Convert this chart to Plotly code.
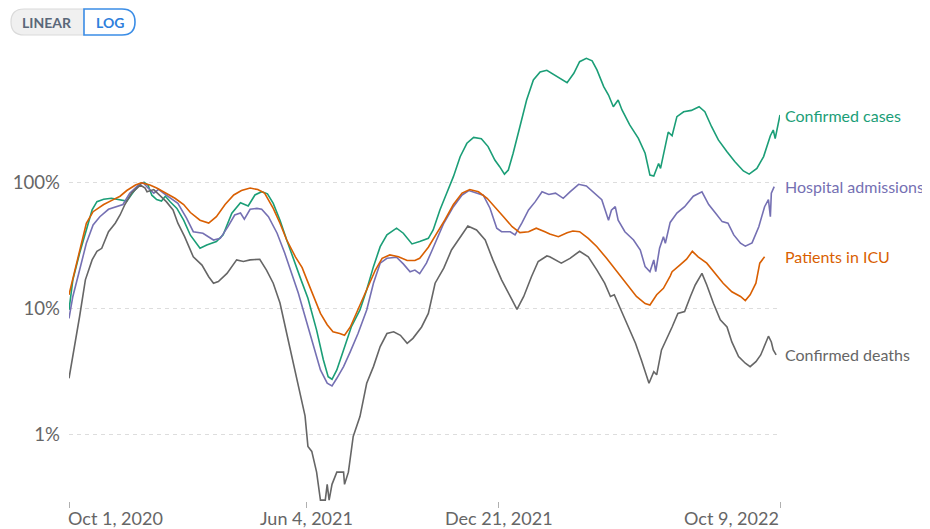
import pandas as pd
import numpy as np
import plotly.graph_objects as go

START = pd.Timestamp("2020-10-01")
END = pd.Timestamp("2022-10-09")

# Days since 2020-10-01 and values (% of peak)
cases_days = [0, 4, 11, 18, 24, 29, 36, 44, 53, 60, 67, 74, 78, 82, 86, 91, 96, 100, 105, 112, 119, 126,
              136, 143, 153, 160, 169, 178, 186, 193, 200, 206, 212, 219, 226, 233, 240, 248, 257, 264,
              269, 273, 278, 285, 293, 302, 309, 316, 323, 330, 340, 347, 356, 364, 373, 378, 385, 392,
              399, 406, 413, 420, 428, 435, 442, 447, 452, 456, 461, 468, 475, 482, 489, 496, 503, 517,
              524, 530, 537, 543, 548, 555, 560, 565, 570, 574, 582, 591, 598, 603, 607, 612, 614, 619,
              622, 626, 631, 638, 646, 654, 660, 667, 674, 683, 691, 700, 706, 714, 721, 728, 731, 733, 738]
cases_vals = [9.7, 16.8, 27.3, 41.8, 60.3, 70.2, 73.3, 74.6, 73, 71, 84, 98, 100, 95, 79, 73, 71, 77.5, 70, 62, 50, 38,
              29.9, 31.8, 33.8, 38.2, 56.8, 68.9, 64.8, 79.3, 84.2, 81, 68, 50, 34.8, 24.2, 17.5, 12, 6.7, 3.9,
              2.86, 2.73, 3.24, 4.67, 7.1, 9.7, 14, 21.4, 30.8, 38.2, 43.2, 39.4, 32.4, 33.8, 35.9, 41.8, 60.3, 81.8,
              110.8, 159.6, 204, 227, 222, 192, 150, 133, 116, 125, 170, 276, 450, 649, 750, 775, 720, 617,
              733, 906, 964, 920, 779, 574, 493, 398, 450, 375, 285, 223, 170, 114, 112, 141, 129, 192,
              250, 234, 332, 363, 372, 398, 363, 276, 217, 175, 146, 123, 116, 129, 160, 234, 260, 222, 342]

hosp_days = [0, 4, 11, 18, 25, 32, 41, 50, 56, 63, 72, 77, 82, 88, 93, 98, 105, 113, 122, 129, 139, 150,
             157, 165, 172, 178, 182, 188, 195, 200, 207, 216, 224, 231, 238, 245, 254, 261, 268, 273, 278,
             285, 292, 300, 309, 316, 323, 330, 340, 347, 354, 359, 364, 371, 377, 382, 389, 399, 408, 415,
             423, 430, 437, 444, 449, 458, 463, 470, 477, 484, 491, 498, 505, 513, 520, 529, 537, 544, 553,
             560, 563, 567, 570, 577, 586, 593, 598, 603, 607, 609, 613, 617, 619, 624, 631, 639, 648, 657,
             664, 671, 678, 684, 690, 697, 702, 709, 716, 722, 726, 728, 729, 732]
hosp_vals = [8.3, 12.4, 20.1, 32.8, 45.8, 53.3, 61, 64, 66.6, 81.8, 95, 99, 90, 82, 88, 82, 74.6, 68, 52, 40.5, 39.4, 34.8,
             35.9, 44.4, 55, 57, 51, 61, 62, 61, 53.3, 39.4, 27.3, 19, 13.2, 8.6, 4.96, 3.24, 2.54, 2.42, 2.78,
             3.44, 4.53, 6.3, 9.7, 15.8, 22.8, 24.9, 25.4, 22.5, 19.5, 20.1, 18.8, 22.8, 29, 36, 47.3, 64, 79.3, 85.9,
             82, 79, 62.2, 43.2, 40.5, 40.5, 38.2, 47.3, 60.3, 70.2, 84, 80, 82, 74.6, 84, 96.4, 93.5, 84, 72.8,
             50, 60, 64, 50, 40.5, 34.8, 29, 21.4, 19.5, 24.2, 19.5, 30, 37, 32.8, 48, 57, 64, 77.5, 84,
             66.6, 57, 48.7, 47.3, 38.2, 32.8, 31.1, 33, 44.4, 64, 72.8, 53.3, 82, 92.4]

icu_days = [0, 6, 13, 18, 25, 36, 46, 53, 60, 69, 75, 84, 91, 101, 110, 119, 126, 136, 145, 153, 162, 171,
            179, 188, 196, 203, 212, 219, 226, 235, 242, 247, 254, 261, 268, 274, 281, 286, 292, 300, 309,
            318, 325, 333, 342, 351, 359, 364, 373, 382, 390, 399, 408, 416, 425, 434, 442, 451, 460, 468,
            477, 485, 494, 499, 508, 517, 523, 530, 539, 548, 558, 569, 579, 589, 598, 603, 610, 617, 624,
            626, 634, 641, 647, 653, 662, 671, 679, 688, 697, 702, 707, 713, 717, 722]
icu_vals = [12.8, 20.1, 32.8, 47.3, 58.4, 66.6, 72.8, 77.5, 86, 95, 99, 95, 90, 82, 74.6, 66.6, 57.5, 50, 47.5, 53.3, 66.6, 79.3,
            86, 90, 87.5, 82, 62, 47.3, 34.8, 25.6, 21, 16.8, 12.4, 9.1, 7.4, 6.5, 6.3, 6.1, 7.1, 9.7, 14,
            20.1, 24.9, 26.5, 25.6, 23.9, 23.9, 24.9, 30.5, 39.4, 50, 66.6, 82, 87.5, 84, 74.6, 64, 53.3, 44.4, 39.8,
            40.5, 43.2, 40.5, 38.8, 37, 39.8, 41, 40.5, 35.9, 30.8, 24.9, 19.5, 15.8, 12.4, 10.9, 10.6, 12.8, 14.4, 18,
            19.5, 22, 24.5, 28.3, 25.6, 22.8, 18.9, 15.8, 13.5, 12.4, 11.5, 12.8, 15.8, 22.8, 25.6]

deaths_days = [0, 6, 11, 17, 24, 29, 34, 41, 48, 53, 58, 65, 74, 79, 81, 88, 94, 101, 108, 113, 120, 126,
               129, 138, 145, 150, 155, 164, 174, 181, 188, 198, 205, 212, 219, 226, 233, 240, 245, 248, 252,
               257, 261, 266, 268, 270, 273, 278, 285, 286, 290, 295, 302, 309, 316, 323, 330, 337, 344, 351,
               357, 366, 373, 380, 389, 397, 406, 414, 423, 432, 440, 449, 458, 465, 472, 480, 487, 496, 499,
               511, 520, 530, 539, 548, 556, 562, 566, 572, 581, 588, 594, 599, 602, 607, 610, 615, 620, 626,
               632, 639, 645, 650, 657, 662, 669, 676, 683, 688, 695, 702, 707, 713, 718, 723, 726, 729, 731, 734]
deaths_vals = [2.78, 4.96, 8.6, 16.8, 24.2, 28.3, 29.9, 40.5, 47.3, 55, 66.6, 82, 95, 90, 84, 87.5, 79.3, 70.2, 60.3, 47.3, 37, 29,
               25.6, 22, 17.8, 15.8, 16.3, 18.9, 24.2, 23.5, 24.2, 24.5, 20.1, 15.8, 11, 6.3, 3.66, 2.1, 1.4, 0.8, 0.73,
               0.5, 0.3, 0.3, 0.4, 0.3, 0.4, 0.5, 0.5, 0.4, 0.5, 0.96, 1.38, 2.54, 3.44, 4.96, 6.3, 6.5, 6.1, 5.27,
               5.77, 7.1, 9.1, 15.8, 20.8, 29, 37, 45, 41.8, 34.8, 24.2, 16.8, 12.4, 9.8, 12.4, 17.8, 23.5, 26, 25.6,
               22.8, 24.9, 28.3, 25.6, 20.1, 15.8, 12.4, 12.8, 10, 7.1, 5.27, 3.9, 3.05, 2.54, 3.14, 2.96, 4.67, 5.6, 7.1,
               9.1, 9.4, 12.4, 15.3, 18.9, 15.3, 10.9, 8.1, 7.1, 5.4, 4.13, 3.66, 3.44, 3.77, 4.26, 5.27, 6, 5.4, 4.67, 4.26]

series = [
    ("Confirmed cases", cases_days, cases_vals, "#1b9e77"),
    ("Hospital admissions", hosp_days, hosp_vals, "#7570b3"),
    ("Patients in ICU", icu_days, icu_vals, "#d95f02"),
    ("Confirmed deaths", deaths_days, deaths_vals, "#666666"),
]

y_tickvals = [1, 10, 100]
y_ticktext = ["1%", "10%", "100%"]
x_tick_dates = ["2020-10-01", "2021-06-04", "2021-12-21", "2022-10-09"]
x_tick_text = ["Oct 1, 2020", "Jun 4, 2021", "Dec 21, 2021", "Oct 9, 2022"]

# The page body adds an 8px margin, so the figure is drawn 8px smaller and shifted
OFF = 8
W, H = 930 - OFF, 529 - OFF
ML, MR, MT, MB = 69 - OFF, 150, 50 - OFF, 28
PW, PH = W - ML - MR, H - MT - MB
FONT = "Lato, 'Open Sans', sans-serif"

fig = go.Figure()
for name, days, vals, color in series:
    dates = START + pd.to_timedelta(days, unit="D")
    fig.add_trace(go.Scatter(x=dates, y=vals, mode="lines", name=name,
                             line=dict(color=color, width=1.6), hoverinfo="skip"))

annotations = []
# series labels at each line's last value
for name, days, vals, color in series:
    annotations.append(dict(xref="paper", x=1 + 3 / PW, xanchor="left",
                            yref="y", y=np.log10(vals[-1]), yanchor="middle",
                            text=name, showarrow=False,
                            font=dict(family=FONT, size=16, color=color)))
# x tick labels (first left-aligned, last right-aligned like the original)
anchors = ["left", "center", "center", "right"]
shifts = [-3, 0, 0, 1]
for d, t, a, s in zip(x_tick_dates, x_tick_text, anchors, shifts):
    annotations.append(dict(xref="x", x=d, xanchor=a, yref="paper", y=0, yanchor="top",
                            yshift=-4, xshift=s, text=t, showarrow=False,
                            font=dict(family=FONT, size=18, color="#666666")))


def px(xp, yp):
    # screenshot pixel -> paper coordinates
    return (xp - OFF - ML) / PW, (H - MB - (yp - OFF)) / PH


def pill_path(x0, x1, y0, y1, r, left_round, right_round):
    def P(a, b):
        u, v = px(a, b)
        return f"{u:.5f},{v:.5f}"
    path = f"M{P(x0 + r, y0)} " if left_round else f"M{P(x0, y0)} "
    if right_round:
        path += f"L{P(x1 - r, y0)} Q{P(x1, y0)} {P(x1, (y0 + y1) / 2)} Q{P(x1, y1)} {P(x1 - r, y1)} "
    else:
        path += f"L{P(x1, y0)} L{P(x1, y1)} "
    if left_round:
        path += f"L{P(x0 + r, y1)} Q{P(x0, y1)} {P(x0, (y0 + y1) / 2)} Q{P(x0, y0)} {P(x0 + r, y0)} Z"
    else:
        path += f"L{P(x0, y1)} Z"
    return path


shapes = [
    dict(type="path", xref="paper", yref="paper",
         path=pill_path(11, 84, 9, 35, 13, True, False),
         fillcolor="#f0f0f0", line=dict(color="#dadada", width=1.2), layer="above"),
    dict(type="path", xref="paper", yref="paper",
         path=pill_path(84, 135, 9, 35, 13, False, True),
         fillcolor="#ffffff", line=dict(color="#3b8de6", width=1.6), layer="above"),
]
bx, by = px(46.5, 22)
annotations.append(dict(xref="paper", yref="paper", x=bx, y=by, text="<b>LINEAR</b>", showarrow=False,
                        xanchor="center", yanchor="middle",
                        font=dict(family=FONT, size=14, color="#5a6779")))
bx, by = px(110, 22)
annotations.append(dict(xref="paper", yref="paper", x=bx, y=by, text="<b>LOG</b>", showarrow=False,
                        xanchor="center", yanchor="middle",
                        font=dict(family=FONT, size=14, color="#2f7fdc")))

fig.update_layout(
    width=W, height=H,
    margin=dict(l=ML, r=MR, t=MT, b=MB, pad=0, autoexpand=False),
    paper_bgcolor="white", plot_bgcolor="white",
    showlegend=False,
    font=dict(family=FONT, size=15, color="#666666"),
    annotations=annotations, shapes=shapes,
    xaxis=dict(type="date", range=[START, END], showgrid=False, zeroline=False,
               showline=False, tickvals=x_tick_dates, ticktext=["", "", "", ""],
               ticks="outside", ticklen=6, tickcolor="#b0b0b0", tickwidth=1,
               automargin=False),
    yaxis=dict(type="log", range=[np.log10(0.295), 3.05], tickvals=y_tickvals, ticktext=y_ticktext,
               showgrid=True, gridcolor="#dddddd", gridwidth=1, griddash="4px,4px",
               zeroline=False, showline=False, ticks="", ticklabelstandoff=8,
               tickfont=dict(family=FONT, size=18.6, color="#666666"), automargin=False),
)

fig.write_html("out.html")
